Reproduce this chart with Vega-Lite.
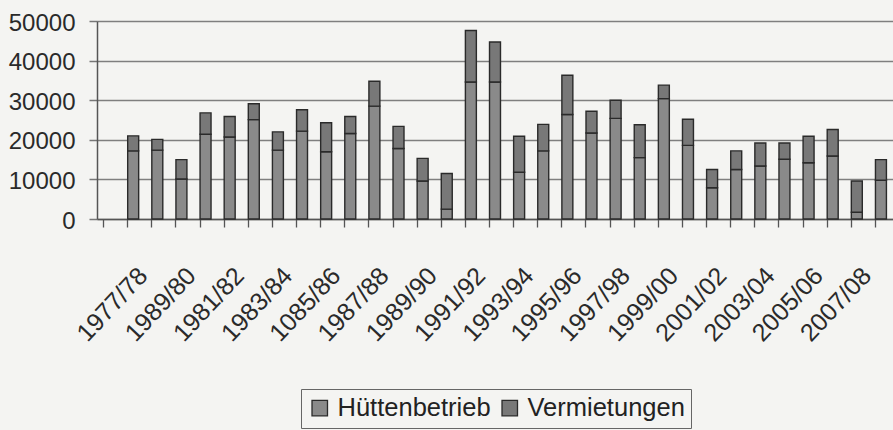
{
  "$schema": "https://vega.github.io/schema/vega-lite/v6.json",
  "width": 796,
  "height": 198,
  "autosize": {"type": "none"},
  "padding": {"left": 97, "top": 21, "right": 0, "bottom": 211},
  "background": "#f4f4f2",
  "config": {
    "view": {"stroke": null},
    "font": "Liberation Sans",
    "axis": {"labelFont": "Liberation Sans", "labelColor": "#2a2a2a"},
    "legend": {"labelFont": "Liberation Sans"}
  },
  "data": {
    "values": [
      {"season": "1977/78", "Hüttenbetrieb": 17200, "Vermietungen": 3800},
      {"season": "1978/79", "Hüttenbetrieb": 17400, "Vermietungen": 2700},
      {"season": "1979/80", "Hüttenbetrieb": 10100, "Vermietungen": 4900},
      {"season": "1980/81", "Hüttenbetrieb": 21400, "Vermietungen": 5400},
      {"season": "1981/82", "Hüttenbetrieb": 20700, "Vermietungen": 5200},
      {"season": "1982/83", "Hüttenbetrieb": 25100, "Vermietungen": 4000},
      {"season": "1983/84", "Hüttenbetrieb": 17400, "Vermietungen": 4600},
      {"season": "1984/85", "Hüttenbetrieb": 22200, "Vermietungen": 5400},
      {"season": "1985/86", "Hüttenbetrieb": 17000, "Vermietungen": 7300},
      {"season": "1986/87", "Hüttenbetrieb": 21600, "Vermietungen": 4300},
      {"season": "1987/88", "Hüttenbetrieb": 28500, "Vermietungen": 6300},
      {"season": "1988/89", "Hüttenbetrieb": 17800, "Vermietungen": 5600},
      {"season": "1989/90", "Hüttenbetrieb": 9600, "Vermietungen": 5700},
      {"season": "1990/91", "Hüttenbetrieb": 2500, "Vermietungen": 9000},
      {"season": "1991/92", "Hüttenbetrieb": 34600, "Vermietungen": 13000},
      {"season": "1992/93", "Hüttenbetrieb": 34600, "Vermietungen": 10100},
      {"season": "1993/94", "Hüttenbetrieb": 11800, "Vermietungen": 9100},
      {"season": "1994/95", "Hüttenbetrieb": 17200, "Vermietungen": 6700},
      {"season": "1995/96", "Hüttenbetrieb": 26400, "Vermietungen": 9900},
      {"season": "1996/97", "Hüttenbetrieb": 21700, "Vermietungen": 5500},
      {"season": "1997/98", "Hüttenbetrieb": 25400, "Vermietungen": 4600},
      {"season": "1998/99", "Hüttenbetrieb": 15500, "Vermietungen": 8300},
      {"season": "1999/00", "Hüttenbetrieb": 30400, "Vermietungen": 3400},
      {"season": "2000/01", "Hüttenbetrieb": 18600, "Vermietungen": 6600},
      {"season": "2001/02", "Hüttenbetrieb": 7900, "Vermietungen": 4600},
      {"season": "2002/03", "Hüttenbetrieb": 12500, "Vermietungen": 4700},
      {"season": "2003/04", "Hüttenbetrieb": 13400, "Vermietungen": 5800},
      {"season": "2004/05", "Hüttenbetrieb": 15100, "Vermietungen": 4100},
      {"season": "2005/06", "Hüttenbetrieb": 14200, "Vermietungen": 6700},
      {"season": "2006/07", "Hüttenbetrieb": 15900, "Vermietungen": 6700},
      {"season": "2007/08", "Hüttenbetrieb": 1700, "Vermietungen": 7900},
      {"season": "2008/09", "Hüttenbetrieb": 9800, "Vermietungen": 5200}
    ]
  },
  "transform": [
    {"fold": ["Hüttenbetrieb", "Vermietungen"], "as": ["series", "value"]}
  ],
  "mark": {"type": "bar", "stroke": "#2a2a2a", "strokeWidth": 1.4},
  "encoding": {
    "x": {
      "field": "season",
      "type": "nominal",
      "sort": null,
      "scale": {
        "domain": [" ", "1977/78", "1978/79", "1979/80", "1980/81", "1981/82", "1982/83", "1983/84", "1984/85", "1985/86", "1986/87", "1987/88", "1988/89", "1989/90", "1990/91", "1991/92", "1992/93", "1993/94", "1994/95", "1995/96", "1996/97", "1997/98", "1998/99", "1999/00", "2000/01", "2001/02", "2002/03", "2003/04", "2004/05", "2005/06", "2006/07", "2007/08", "2008/09"],
        "paddingInner": 0.545,
        "paddingOuter": 0.2725
      },
      "axis": {
        "title": null,
        "bandPosition": 0,
        "tickSize": 8,
        "tickColor": "#555",
        "tickWidth": 1.3,
        "domainColor": "#555",
        "domainWidth": 1.5,
        "labelAngle": -47,
        "labelAlign": "right",
        "labelBaseline": "middle",
        "labelFontSize": 25,
        "labelPadding": 44,
        "labelOffset": 10,
        "labelOverlap": false,
        "labelExpr": "datum.value == '1979/80' ? '1989/80' : datum.value == '1985/86' ? '1085/86' : indexof(['1977/78','1981/82','1983/84','1987/88','1989/90','1991/92','1993/94','1995/96','1997/98','1999/00','2001/02','2003/04','2005/06','2007/08'], datum.value) >= 0 ? datum.value : ''"
      }
    },
    "y": {
      "field": "value",
      "type": "quantitative",
      "stack": "zero",
      "scale": {"domain": [0, 50000], "nice": false},
      "axis": {
        "title": null,
        "values": [0, 10000, 20000, 30000, 40000, 50000],
        "format": "d",
        "tickSize": 8,
        "tickColor": "#777",
        "tickWidth": 1.5,
        "domainColor": "#555",
        "domainWidth": 1.5,
        "grid": true,
        "gridColor": "#7f7f7f",
        "gridWidth": 1.5,
        "labelFontSize": 24,
        "labelPadding": 14,
        "labelOffset": 2
      }
    },
    "color": {
      "field": "series",
      "type": "nominal",
      "scale": {"domain": ["Hüttenbetrieb", "Vermietungen"], "range": ["#8a8a8a", "#787878"]},
      "legend": {
        "title": null,
        "orient": "none",
        "legendX": 204,
        "legendY": 368,
        "direction": "horizontal",
        "strokeColor": "#666",
        "padding": 6,
        "symbolType": "square",
        "symbolSize": 240,
        "symbolStrokeColor": "#2a2a2a",
        "symbolStrokeWidth": 1.3,
        "labelFontSize": 25.5,
        "labelColor": "#222",
        "labelOffset": 5,
        "columnPadding": 6,
        "labelLimit": 300
      }
    },
    "order": {"field": "series", "sort": "ascending"}
  }
}
